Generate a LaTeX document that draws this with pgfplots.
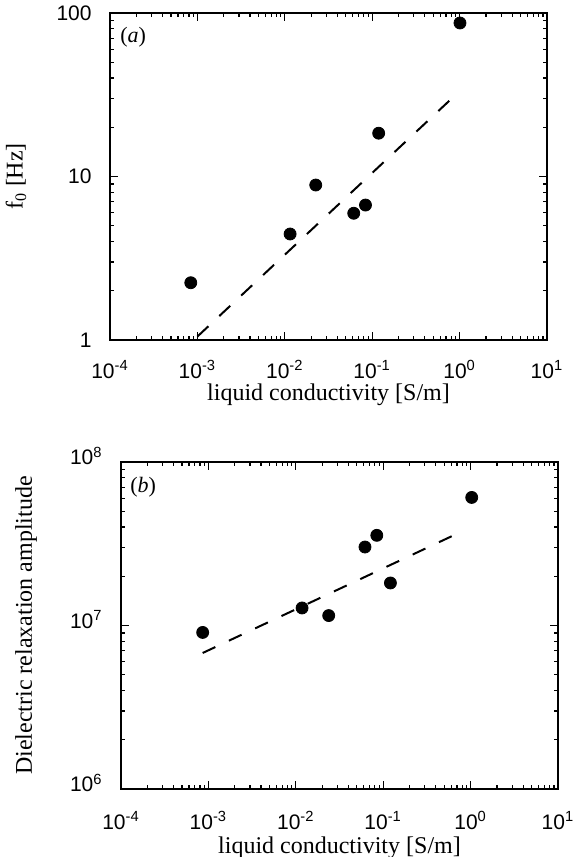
\documentclass[border=0pt]{standalone}
\usepackage{pgfplots}
\pgfplotsset{compat=1.18}
\usepackage{pgfplotstable}
\usepackage{fontspec}
\setmainfont{Liberation Serif}
\setsansfont{Liberation Sans}

\pgfplotstableread{
x y
8.4e-4 2.24
0.0115 4.45
0.0226 8.87
0.0615 5.96
0.0838 6.69
0.1186 18.4
1.01 86.9
}\dataA

\pgfplotstableread{
x y
8.6e-4 9.07e6
0.0118 1.28e7
0.0238 1.15e7
0.0619 3.02e7
0.0845 3.56e7
0.121 1.82e7
1.03 6.07e7
}\dataB

\pgfplotsset{myaxis/.style={
  scale only axis, width=218.5pt, height=163.5pt,
  xmin=1e-4, xmax=10,
  axis line style={line width=1pt},
  every tick/.style={black, line width=0.6pt},
  major tick length=4pt, minor tick length=2pt,
  tick align=inside,
  xtick={1e-4,1e-3,1e-2,1e-1,1,10},
  xticklabels={10\textsuperscript{-4},10\textsuperscript{-3},10\textsuperscript{-2},10\textsuperscript{-1},10\textsuperscript{0},10\textsuperscript{1}},
  xticklabel style={font=\sffamily\fontsize{10.5}{12}\selectfont, anchor=base},
  yticklabel style={font=\sffamily\fontsize{10.5}{12}\selectfont, inner sep=0pt},
  label style={font=\fontsize{12}{14}\selectfont},
  xlabel={liquid conductivity [S/m]},
}}

\begin{document}
\begin{tikzpicture}
\path[use as bounding box] (0,0) rectangle (287pt,-428.5pt);

\begin{loglogaxis}[myaxis,
  at={(55pt,-170pt)}, anchor=south west,
  ymin=1, ymax=100,
  ytick={1,10,100}, yticklabels={1,10,100},
  xticklabel style={yshift=-19pt},
  yticklabel style={anchor=east, xshift=-9pt},
  xlabel style={at={(axis description cs:0.5,0)}, anchor=base, yshift=-30pt},
  ylabel style={at={(axis description cs:-0.215,0.5)}, anchor=center},
  ylabel={f\textsubscript{0} [Hz]},
]
\addplot[black, line width=1pt, dash pattern=on 7.5pt off 7.5pt] coordinates {(1e-3,1.05) (0.84,30.5)};
\addplot[only marks, mark=*, mark size=3pt, black] table[x=x,y=y] {\dataA};
\node[anchor=north west, font=\fontsize{11}{13}\selectfont, inner sep=0pt] at (rel axis cs:0,1) [xshift=5pt, yshift=-7pt] {(\textit{a})};
\end{loglogaxis}

\begin{loglogaxis}[myaxis,
  at={(60.5pt,-394.5pt)}, anchor=south west,
  ymin=1e6, ymax=1e8,
  ytick={1e6,1e7,1e8}, yticklabels={10\textsuperscript{6},10\textsuperscript{7},10\textsuperscript{8}},
  xticklabel style={yshift=-20pt},
  yticklabel style={anchor=base east, xshift=-9pt, yshift=-1.5pt},
  xlabel style={at={(axis description cs:0.5,0)}, anchor=base, yshift=-32pt},
  ylabel style={at={(axis description cs:-0.217,0.5)}, anchor=center},
  ylabel={Dielectric relaxation amplitude},
]
\addplot[black, line width=1pt, dash pattern=on 7pt off 7.5pt] coordinates {(8.6e-4,6.79e6) (0.77,3.73e7)};
\addplot[only marks, mark=*, mark size=3pt, black] table[x=x,y=y] {\dataB};
\node[anchor=north west, font=\fontsize{11}{13}\selectfont, inner sep=0pt] at (rel axis cs:0,1) [xshift=4.5pt, yshift=-7.5pt] {(\textit{b})};
\end{loglogaxis}
\end{tikzpicture}
\end{document}
